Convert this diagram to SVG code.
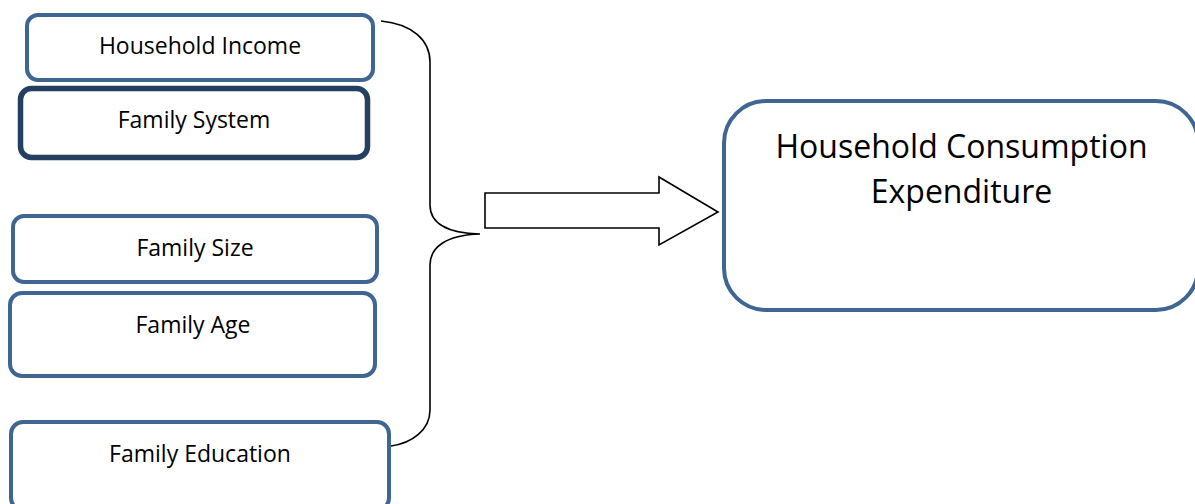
<svg xmlns="http://www.w3.org/2000/svg" width="1195" height="504" viewBox="0 0 1195 504">
<style>
.box{fill:#fff;stroke:#3F6592;stroke-width:4}
.dark{stroke:#243F60;stroke-width:5.5}
.t{font-family:"Open Sans","Liberation Sans",sans-serif;font-size:23px;fill:#000;text-anchor:middle}
.big{font-size:32px}
.conn{fill:none;stroke:#000;stroke-width:1.6}
.arrow{fill:#fff;stroke:#000;stroke-width:1.6;stroke-linejoin:miter}
</style>
<rect width="1195" height="504" fill="#fff"/>
<g id="household-income"><rect class="box" x="27" y="15" width="346" height="65" rx="11"/><text class="t" x="200" y="54">Household Income</text></g>
<g id="family-system"><rect class="box dark" x="20.5" y="88.5" width="347" height="69" rx="11"/><text class="t" x="194" y="128">Family System</text></g>
<g id="family-size"><rect class="box" x="13" y="216" width="364" height="66" rx="11"/><text class="t" x="195" y="256">Family Size</text></g>
<g id="family-age"><rect class="box" x="10" y="293" width="365" height="83" rx="12"/><text class="t" x="193" y="333">Family Age</text></g>
<g id="family-education"><rect class="box" x="11" y="422" width="378" height="88" rx="12"/><text class="t" x="200" y="462">Family Education</text></g>
<g id="household-consumption-expenditure"><rect class="box" x="724" y="101" width="474" height="209" rx="42"/><text class="t big" x="961.5" y="158">Household Consumption</text><text class="t big" x="961.5" y="203">Expenditure</text></g>
<g id="connectors">
<path class="conn" d="M381,21 C412,24 430,40 430,62 L430,205 C430,222 445,233 480,234 C445,235 430,248 430,265 L430,410 C430,430 412,443 391,446"/>
<polygon class="arrow" points="485,193 659,193 659,177 718,212 659,245 659,228 485,228"/>
</g>
</svg>
